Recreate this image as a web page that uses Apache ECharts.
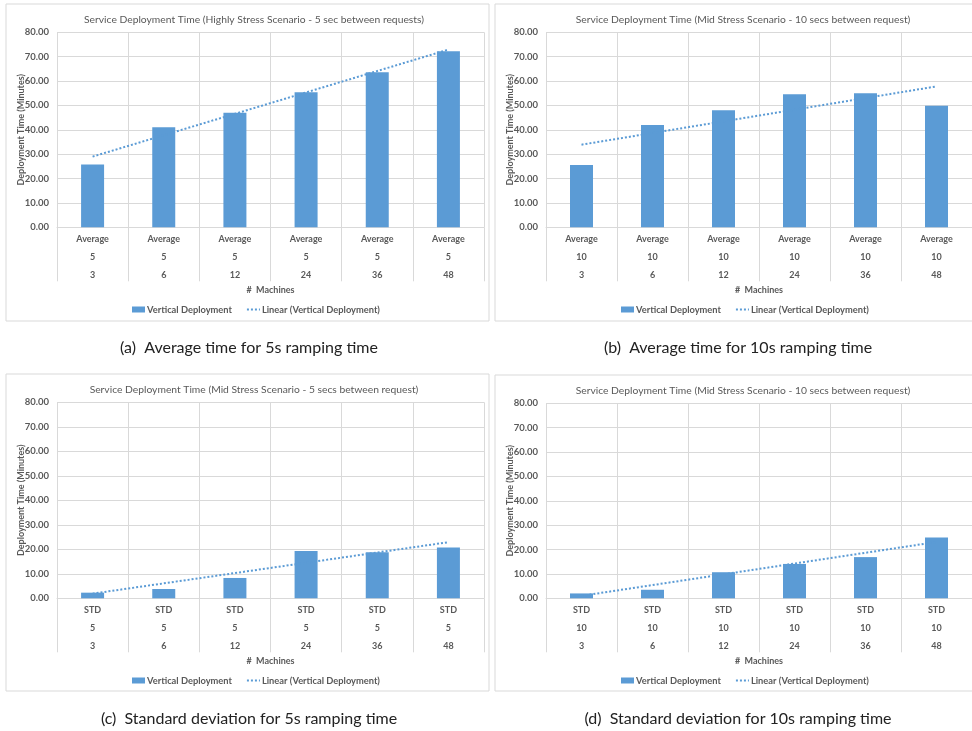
<!DOCTYPE html>
<html>
<head>
<meta charset="utf-8">
<script src="https://cdn.jsdelivr.net/npm/echarts@6/dist/echarts.min.js"></script>
<style>
  html, body { margin: 0; padding: 0; background: #fff; }
  #chart { width: 972px; height: 731px; }
</style>
</head>
<body>
<div id="chart"></div>
<script>
// x-axis levels
const machines = ['3', '6', '12', '24', '36', '48']
const statAvg = 'Average'
const statStd = 'STD'

// bar values (minutes)
const avg5 = [25.8, 41.0, 47.0, 55.4, 63.6, 72.2]
const avg10 = [25.6, 42.0, 48.0, 54.6, 55.0, 49.9]
const std5 = [2.3, 3.8, 8.3, 19.3, 18.8, 20.7]
const std10 = [2.0, 3.5, 10.7, 14.1, 16.9, 24.9]

// linear trend, first and last category
const trendAvg5 = [29.0, 72.9]
const trendAvg10 = [33.9, 57.8]
const trendStd5 = [1.9, 22.9]
const trendStd10 = [1.0, 23.1]

const yTicks = [0, 80, 10]

const titles = [
  'Service Deployment Time (Highly Stress Scenario - 5 sec between requests)',
  'Service Deployment Time (Mid Stress Scenario - 10 secs between request)',
  'Service Deployment Time (Mid Stress Scenario - 5 secs between request)',
  'Service Deployment Time (Mid Stress Scenario - 10 secs between request)'
]
const captions = [
  '(a)  Average time for 5s ramping time',
  '(b)  Average time for 10s ramping time',
  '(c)  Standard deviation for 5s ramping time',
  '(d)  Standard deviation for 10s ramping time'
]

const panels = [
  { stat: statAvg, ramp: '5', bars: avg5, trend: trendAvg5, left: 57, top: 32.3, h: 195, cx: 249, ty: 10, lx: 132, ly: 305, box: [6, 4, 483, 317], capY: 340 },
  { stat: statAvg, ramp: '10', bars: avg10, trend: trendAvg10, left: 546, top: 32.3, h: 195, cx: 738, ty: 10, lx: 621, ly: 305, box: [495, 4, 480, 317], capY: 340 },
  { stat: statStd, ramp: '5', bars: std5, trend: trendStd5, left: 57, top: 402.3, h: 196, cx: 249, ty: 380, lx: 132, ly: 676, box: [6, 374, 483, 317], capY: 711 },
  { stat: statStd, ramp: '10', bars: std10, trend: trendStd10, left: 546, top: 403.3, h: 195, cx: 738, ty: 381, lx: 621, ly: 676, box: [495, 375, 480, 316], capY: 711 }
]

const font = 'Lato, "Open Sans", sans-serif'
const gray = '#595959'
const lineGray = '#d9d9d9'
const blue = '#5b9bd5'

const option = {
  animation: false,
  backgroundColor: '#fff',
  title: [],
  legend: [],
  grid: [],
  xAxis: [],
  yAxis: [],
  series: [],
  graphic: []
}

panels.forEach((p, i) => {
  // zero-width spaces keep each panel's legend names distinct
  const tag = '\u200b'.repeat(i)
  const barName = 'Vertical Deployment' + tag
  const lineName = 'Linear (Vertical Deployment)' + tag
  option.graphic.push({
    type: 'rect',
    shape: { x: p.box[0], y: p.box[1], width: p.box[2], height: p.box[3] },
    style: { fill: 'none', stroke: lineGray, lineWidth: 1 },
    z: -1
  })
  option.graphic.push({
    type: 'text',
    x: p.cx,
    y: p.capY,
    style: {
      text: captions[i],
      fill: '#222',
      font: '16px ' + font,
      textAlign: 'center'
    }
  })
  option.title.push({
    text: titles[i],
    left: p.cx,
    top: p.ty,
    textAlign: 'center',
    textStyle: { fontFamily: font, fontSize: 10.3, fontWeight: 'normal', color: gray }
  })
  option.grid.push({ left: p.left, top: p.top, width: 427, height: p.h })
  option.legend.push({
    left: p.lx,
    top: p.ly,
    orient: 'horizontal',
    itemWidth: 13,
    itemHeight: 6,
    itemGap: 14,
    padding: 0,
    textStyle: { fontFamily: font, fontSize: 9.3, fontWeight: 'bold', color: gray, padding: [0, 0, 0, -3] },
    data: [
      { name: barName, icon: 'rect' },
      { name: lineName, itemStyle: { opacity: 0 } }
    ]
  })
  option.xAxis.push({
    type: 'category',
    gridIndex: i,
    data: machines.map(m => p.stat + '\n' + p.ramp + '\n' + m),
    name: '#  Machines',
    nameLocation: 'middle',
    nameGap: 58,
    nameTextStyle: { fontFamily: font, fontSize: 9, fontWeight: 'bold', color: gray },
    axisLine: { show: true, lineStyle: { color: lineGray } },
    axisTick: { show: true, length: 54, interval: 0, lineStyle: { color: lineGray } },
    splitLine: { show: true, interval: 0, lineStyle: { color: lineGray } },
    axisLabel: {
      interval: 0,
      margin: 3,
      lineHeight: 18,
      fontFamily: font,
      fontSize: 9,
      fontWeight: 'bold',
      color: gray
    }
  })
  option.yAxis.push({
    type: 'value',
    gridIndex: i,
    min: yTicks[0],
    max: yTicks[1],
    interval: yTicks[2],
    name: 'Deployment Time (Minutes)',
    nameLocation: 'middle',
    nameGap: 31,
    nameMoveOverlap: false,
    nameTextStyle: { fontFamily: font, fontSize: 9, fontWeight: 'bold', color: gray },
    axisLine: { show: false },
    axisTick: { show: false },
    splitLine: { lineStyle: { color: lineGray } },
    axisLabel: {
      margin: 8,
      fontFamily: font,
      fontSize: 9.5,
      fontWeight: 'bold',
      color: gray,
      formatter: v => v.toFixed(2)
    }
  })
  option.series.push({
    name: barName,
    type: 'bar',
    xAxisIndex: i,
    yAxisIndex: i,
    data: p.bars,
    barWidth: 23,
    itemStyle: { color: blue }
  })
  const trendData = machines.map(() => null)
  trendData[0] = p.trend[0]
  trendData[trendData.length - 1] = p.trend[1]
  option.series.push({
    name: lineName,
    type: 'line',
    xAxisIndex: i,
    yAxisIndex: i,
    data: trendData,
    connectNulls: true,
    symbol: 'none',
    lineStyle: { color: blue, width: 2, type: [2, 2] },
    itemStyle: { color: blue },
    z: 3
  })
})

const chartDom = echarts.init(document.getElementById('chart'))
chartDom.setOption(option)
</script>
</body>
</html>
